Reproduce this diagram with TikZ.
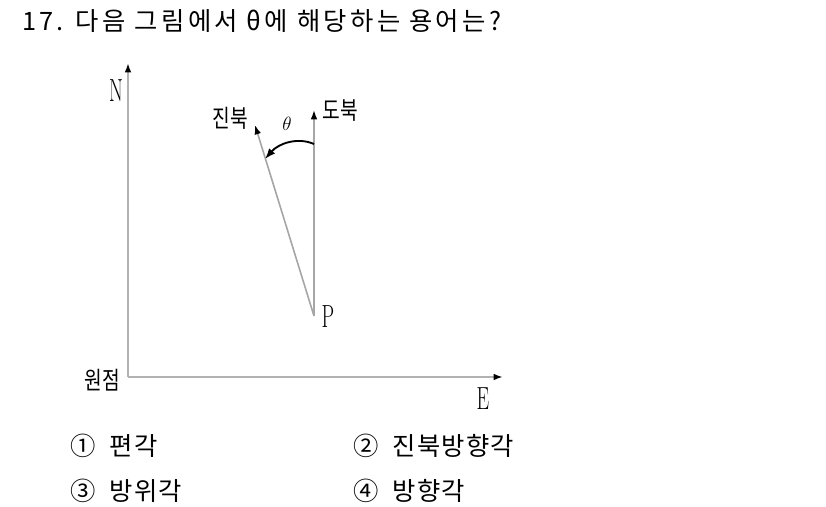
\documentclass[tikz,border=0pt]{standalone}
\usepackage{fontspec}
\newfontfamily\kr{Noto Sans CJK KR}
\newfontfamily\krwide[LetterSpace=13]{Noto Sans CJK KR}
\newfontfamily\krchoice[LetterSpace=5]{Noto Sans CJK KR}
\usetikzlibrary{arrows.meta}

\newcommand{\tallbox}[1]{\scalebox{0.75}[1.2]{#1}}
\newcommand{\hanbox}[1]{\scalebox{0.9}[1.15]{#1}}

\begin{document}
\begin{tikzpicture}[x=0.75pt,y=-0.75pt,
    axis/.style={draw=gray!60,line width=1.5pt,-{Latex[length=7pt,width=5pt,color=black]}},
    north/.style={draw=gray!70,line width=1.2pt,-{Latex[length=7pt,width=5pt,color=black]}},
    turn/.style={draw=black,line width=1.4pt,-{Latex[length=8pt,width=6pt]}},
    latin/.style={inner sep=0pt,font=\fontsize{20}{20}\selectfont},
    hangul/.style={inner sep=0pt,font=\kr\fontsize{16}{16}\selectfont},
    question/.style={inner sep=0pt,anchor=base west,font=\krwide\fontsize{19}{20}\selectfont},
    choice/.style={inner sep=0pt,anchor=base west,font=\krchoice\fontsize{19}{20}\selectfont}]
    \useasboundingbox (0,0) rectangle (826,507);

    % question
    \node[question] (q) at (22,30) {17. 다음 그림에서 θ에 해당하는 용어는?};

    % axes
    \coordinate (O) at (128,377);
    \coordinate (Ntip) at (128,63);
    \coordinate (Etip) at (503,377);
    \draw[axis] (O) -- (Ntip);
    \draw[axis] (O) -- (Etip);
    \node[latin] (N) at (116,91) {\tallbox{N}};
    \node[latin] (E) at (483,399) {\tallbox{E}};
    \node[hangul] (origin) at (102,380) {\hanbox{원점}};

    % P and the two norths
    \coordinate (P) at (314,316);
    \coordinate (grid) at (314,110);
    \coordinate (true) at (255,125);
    \draw[north] (P) -- (grid);
    \draw[north] (P) -- (true);
    \node[latin] (Pl) at (328,317) {\tallbox{P}};
    \node[hangul] (truel) at (230,118) {\hanbox{진북}};
    \node[hangul] (gridl) at (340,111) {\hanbox{도북}};

    % theta
    \coordinate (a1) at (314,144);
    \coordinate (a2) at (265,159);
    \draw[turn] (a1) .. controls (298,137) and (279,143) .. (a2);
    \node[inner sep=0pt,font=\fontsize{14}{14}\selectfont] (th) at (287,124) {$\theta$};

    % choices
    \node[choice] (c1) at (70,455) {①\hspace{0.55em}편각};
    \node[choice] (c2) at (353,455) {②\hspace{0.55em}진북방향각};
    \node[choice] (c3) at (70,500) {③\hspace{0.55em}방위각};
    \node[choice] (c4) at (353,500) {④\hspace{0.55em}방향각};

\end{tikzpicture}
\end{document}
